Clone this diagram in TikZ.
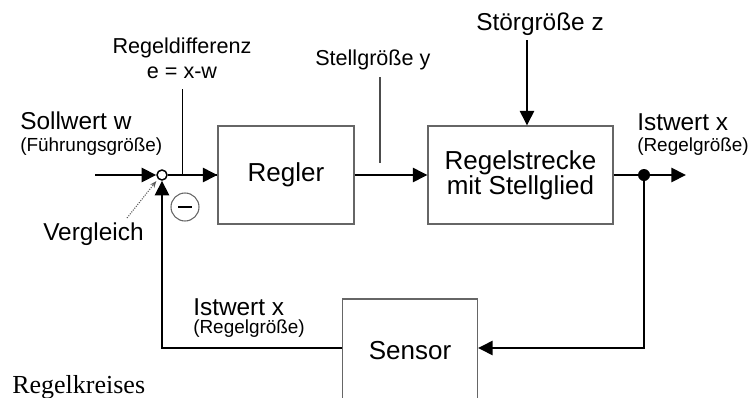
\documentclass[tikz,border=0pt]{standalone}
\usepackage{fontspec}
\setmainfont{Liberation Sans}
\newfontfamily\capserif{Liberation Serif}
\usetikzlibrary{arrows.meta}

\newcommand{\lblbig}{\fontsize{18.3}{22}\selectfont}
\newcommand{\lblmid}{\fontsize{16.2}{19}\selectfont}
\newcommand{\lblsub}{\fontsize{14.2}{17}\selectfont}
\newcommand{\lblbox}{\fontsize{19.5}{18.75}\selectfont}

\begin{document}
\begin{tikzpicture}[x=0.75pt, y=-0.75pt,
  block/.style={draw=gray!80!black, line width=0.8pt, inner sep=0pt, font=\lblbox},
  sig/.style={line width=2.1pt, -{Triangle[length=11pt, width=10.5pt]}},
  wire/.style={line width=2.1pt},
  tag/.style={anchor=base west, inner sep=0pt},
  pointer/.style={gray!70!black, line width=0.8pt}]
  \useasboundingbox (0,0) rectangle (751,397);
  \clip (0,0) rectangle (751,397);

  % ---- blocks ----
  \node[block, minimum width=102pt, minimum height=73.5pt] (regler) at (286,175) {Regler};
  \node[block, minimum width=138.75pt, minimum height=73.5pt, align=center] (strecke) at (520.5,175) {Regelstrecke\\mit Stellglied};
  \node[block, minimum width=101.25pt, minimum height=78pt] (sensor) at (410,351) {Sensor};

  % ---- summing point and branch ----
  \node[circle, draw, line width=1.1pt, fill=white, minimum size=7.5pt, inner sep=0pt] (sum) at (162,175) {};
  \node[circle, draw=gray!80!black, line width=0.8pt, minimum size=21pt, inner sep=0pt] (minus) at (185,207) {\rule{10pt}{1.1pt}};
  \node[circle, fill, minimum size=9pt, inner sep=0pt] (tap) at (644,175) {};

  % ---- free ends ----
  \coordinate (in) at (95,175);
  \coordinate (out) at (686,175);
  \coordinate (ztop) at (527,40);
  \coordinate (ytop) at (380,77);
  \coordinate (ybot) at (380,163);
  \coordinate (etop) at (182,89);
  \coordinate (vgl) at (127,218);

  % ---- signal path ----
  \draw[sig] (in) -- (sum);
  \draw[wire] (sum) -- (regler);
  \draw[sig] (etop |- sum) -- (regler);
  \draw[sig] (regler) -- (strecke);
  \draw[wire] (strecke) -- (tap);
  \draw[sig] (tap) -- (out);
  \draw[sig] (ztop) -- (ztop |- strecke.north);
  \draw[sig] (tap) |- (sensor.east |- 0,348);
  \draw[sig] (sensor.west |- 0,348) -| (sum);

  % ---- label leaders ----
  \draw[gray!60!black, line width=0.8pt] (ytop) -- (ybot);
  \draw[line width=0.7pt] (etop) -- (etop |- sum);
  \draw[pointer, densely dotted, -{Stealth[length=5pt, width=4pt, open]}, shorten >=2pt] (vgl) -- (sum.south west);

  % ---- labels ----
  \node[tag, font=\lblbig] (soll) at (20,129) {Sollwert w};
  \node[tag, font=\lblsub] (fuehr) at (20,151) {(Führungsgröße)};
  \node[anchor=base, inner sep=0pt, font=\lblmid] (diff) at (182,53) {Regeldifferenz};
  \node[anchor=base, inner sep=0pt, font=\lblmid] (diffeq) at (182,78) {e = x-w};
  \node[tag, font=\lblmid] (stell) at (315,65) {Stellgröße y};
  \node[tag, font=\lblbig] (stoer) at (476,30) {Störgröße z};
  \node[tag, font=\lblbig] (ist) at (637,130) {Istwert x};
  \node[tag, font=\lblsub] (istsub) at (637,151) {(Regelgröße)};
  \node[tag, font=\lblbig] (vergleich) at (43,240) {Vergleich};
  \node[tag, font=\lblbig] (istfb) at (193,315) {Istwert x};
  \node[tag, font=\lblsub] (istfbsub) at (193,333) {(Regelgröße)};
  \node[tag, font=\capserif\fontsize{19.5}{22}\selectfont] (caption) at (12,393) {Regelkreises};
\end{tikzpicture}
\end{document}
